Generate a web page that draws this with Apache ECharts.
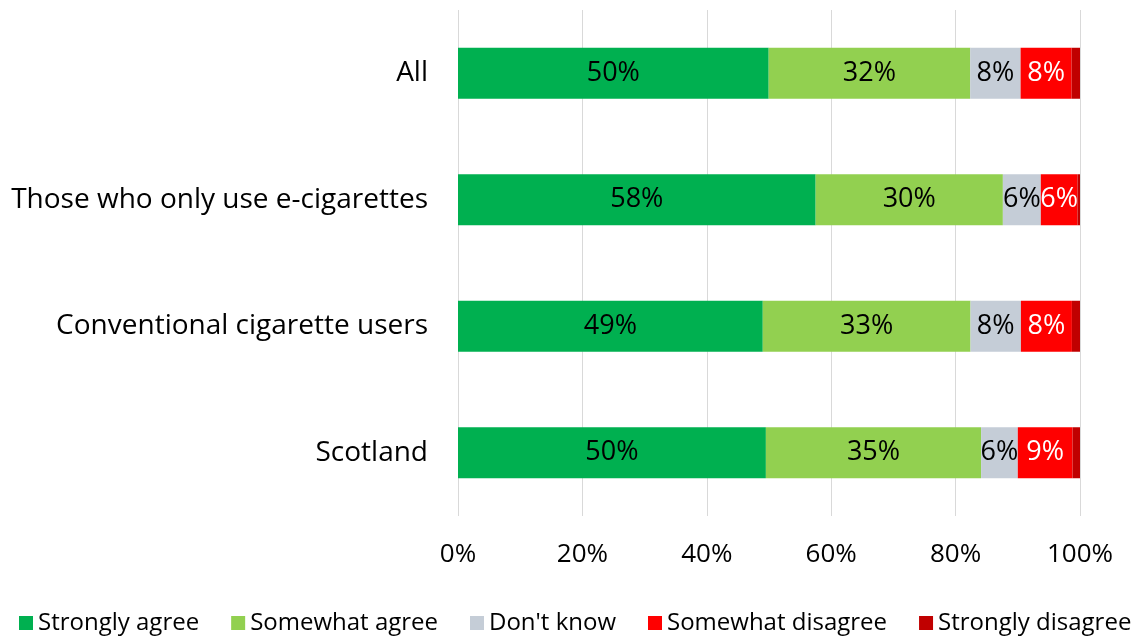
<!DOCTYPE html>
<html><head><meta charset="utf-8">
<script src="https://cdn.jsdelivr.net/npm/echarts@6/dist/echarts.min.js"></script>
<style>html,body{margin:0;padding:0;background:#fff}#c{width:1137px;height:639px}</style>
</head><body><div id="c"></div>
<script>
const categories = ['All', 'Those who only use e-cigarettes', 'Conventional cigarette users', 'Scotland'];
const seriesNames = ['Strongly agree', 'Somewhat agree', "Don't know", 'Somewhat disagree', 'Strongly disagree'];
const stronglyAgree = [49.95, 57.5, 49.0, 49.5];
const somewhatAgree = [32.4, 30.1, 33.4, 34.6];
const dontKnow = [8.1, 6.1, 8.1, 5.9];
const somewhatDisagree = [8.2, 5.9, 8.2, 8.8];
const stronglyDisagree = [1.35, 0.4, 1.3, 1.2];
const xTicks = [0, 20, 40, 60, 80, 100];

const colors = ['#00B050', '#92D050', '#C5CDD7', '#FF0000', '#C00000'];
const labelColors = ['#000', '#000', '#000', '#fff', null];
const values = [stronglyAgree, somewhatAgree, dontKnow, somewhatDisagree, stronglyDisagree];
const FONT = 'Open Sans';

const chart = echarts.init(document.getElementById('c'));
chart.setOption({
  animation: false,
  textStyle: { fontFamily: FONT },
  grid: { left: 458, right: 57, top: 10, bottom: 123 },
  legend: {
    bottom: -1, left: 14,
    itemWidth: 14, itemHeight: 14, itemGap: 32,
    icon: 'rect',
    textStyle: { fontSize: 24, color: '#000', fontFamily: FONT },
    data: seriesNames
  },
  xAxis: {
    type: 'value', min: 0, max: 100, interval: 20,
    axisLine: { show: false }, axisTick: { show: false },
    splitLine: { lineStyle: { color: '#D9D9D9', width: 1 } },
    axisLabel: { fontSize: 26, color: '#000', margin: 26, formatter: v => v + '%' }
  },
  yAxis: {
    type: 'category', data: categories, inverse: true,
    axisLine: { show: false }, axisTick: { show: false },
    axisLabel: { fontSize: 28, color: '#000', margin: 30 }
  },
  series: seriesNames.map((n, i) => ({
    name: n, type: 'bar', stack: 'a', barWidth: 51,
    data: values[i],
    itemStyle: { color: colors[i] },
    label: {
      show: labelColors[i] !== null,
      position: 'inside',
      color: labelColors[i] || '#000',
      fontSize: 27,
      fontFamily: FONT,
      formatter: p => Math.round(p.value) + '%'
    }
  }))
});
</script></body></html>
